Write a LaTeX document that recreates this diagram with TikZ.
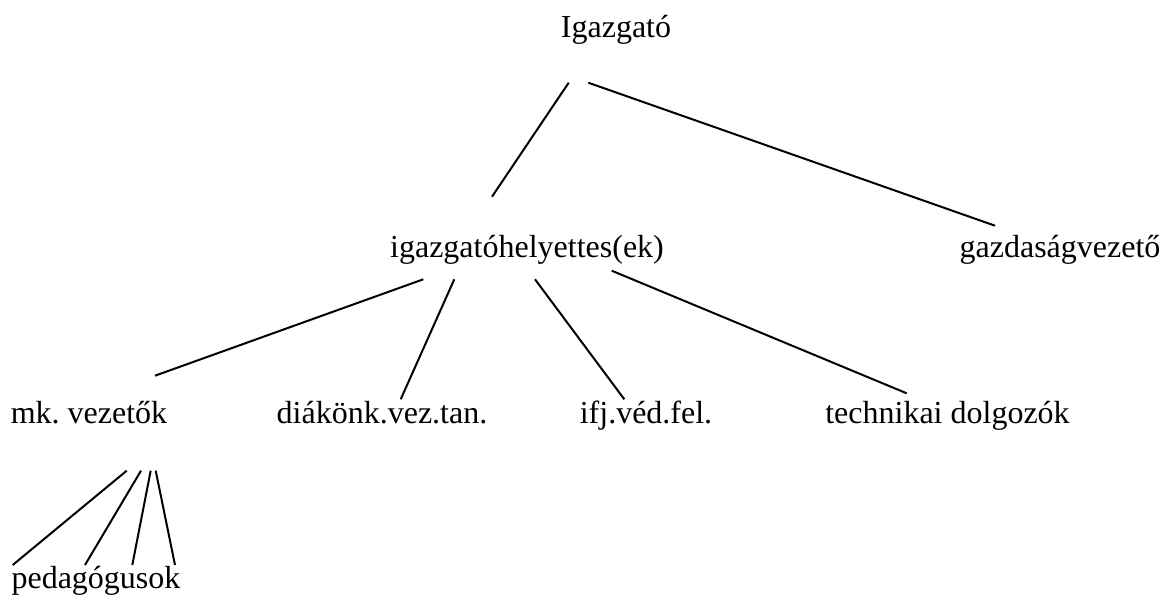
\documentclass[tikz,border=0pt]{standalone}
\usepackage{fontspec}
\setmainfont{Liberation Serif}
\frenchspacing
\begin{document}
\begin{tikzpicture}[x=0.5pt,y=-0.5pt,
  lbl/.style={anchor=base,inner sep=0pt,font=\fontsize{16}{19}\selectfont},
  conn/.style={draw=black,line width=1pt}]
\useasboundingbox (0,0) rectangle (1162,595);
\node[lbl] (ig) at (616,37) {Igazgató};
\node[lbl] (ih) at (527,257) {igazgatóhelyettes(ek)};
\node[lbl] (gv) at (1060,257) {gazdaságvezető};
\node[lbl] (mk) at (89,423) {mk. vezetők};
\node[lbl] (dv) at (382,423) {diákönk.vez.tan.};
\node[lbl] (if) at (646,423) {ifj.véd.fel.};
\node[lbl] (td) at (947.5,423) {technikai dolgozók};
\node[lbl] (pd) at (96,588) {pedagógusok};
% connector end points
\coordinate (ig1) at (568.7,82.7);
\coordinate (ig2) at (588.3,82.7);
\coordinate (ih0) at (492,196.7);
\coordinate (gv0) at (995,225.7);
\coordinate (ih1) at (423.3,279.3);
\coordinate (ih2) at (454.3,279.3);
\coordinate (ih3) at (535,279.3);
\coordinate (ih4) at (611.7,270.7);
\coordinate (mk0) at (155,375.7);
\coordinate (dv0) at (400.7,399.3);
\coordinate (if0) at (624.3,399.3);
\coordinate (td0) at (906.7,393.3);
\coordinate (mk1) at (126.7,470.7);
\coordinate (mk2) at (141,470.7);
\coordinate (mk3) at (150.7,470.7);
\coordinate (mk4) at (155.7,470.7);
\coordinate (pd1) at (12.7,565);
\coordinate (pd2) at (85,565);
\coordinate (pd3) at (132.3,565);
\coordinate (pd4) at (175,565);
\draw[conn] (ig1) -- (ih0);
\draw[conn] (ig2) -- (gv0);
\draw[conn] (ih1) -- (mk0);
\draw[conn] (ih2) -- (dv0);
\draw[conn] (ih3) -- (if0);
\draw[conn] (ih4) -- (td0);
\draw[conn] (mk1) -- (pd1);
\draw[conn] (mk2) -- (pd2);
\draw[conn] (mk3) -- (pd3);
\draw[conn] (mk4) -- (pd4);
\end{tikzpicture}
\end{document}
